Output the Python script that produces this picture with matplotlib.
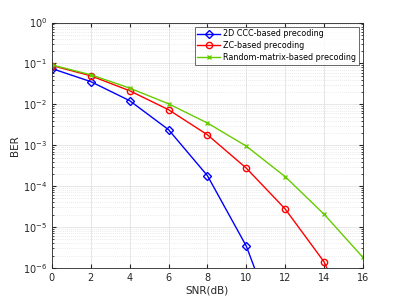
import matplotlib
matplotlib.use("Agg")
import matplotlib.pyplot as plt
import numpy as np
from matplotlib.ticker import LogLocator, NullFormatter, FixedLocator

snr = [0, 2, 4, 6, 8, 10, 12, 14, 16]
ber_ccc = [0.075, 0.036, 0.0123, 0.0024, 1.8e-4, 3.4e-6, 1e-8]
ber_zc = [0.089, 0.050, 0.0215, 0.0074, 0.0018, 2.75e-4, 2.75e-5, 1.4e-6, 1e-8]
ber_rand = [0.092, 0.053, 0.025, 0.0103, 0.0035, 9.5e-4, 1.7e-4, 2.05e-5, 1.8e-6]
labels = ['2D CCC-based precoding', 'ZC-based precoding', 'Random-matrix-based precoding']
yticks = [1e-6, 1e-5, 1e-4, 1e-3, 1e-2, 1e-1, 1e0]
ytick_labels = ['$10^{-6}$', '$10^{-5}$', '$10^{-4}$', '$10^{-3}$', '$10^{-2}$', '$10^{-1}$', '$10^{0}$']

plt.rcParams['font.family'] = ['DejaVu Sans']
fig = plt.figure(figsize=(4.02, 3.01), dpi=100)
ax = fig.add_axes([0.129, 0.110, 0.774, 0.815])

ax.semilogy(snr[:len(ber_ccc)], ber_ccc, color='#0000ff', marker='D', ms=3.8, mfc='none', mew=1.0, lw=1.0, label=labels[0])
ax.semilogy(snr, ber_zc, color='#ff0000', marker='o', ms=4.5, mfc='none', mew=1.0, lw=1.0, label=labels[1])
ax.semilogy(snr, ber_rand, color='#66cc00', marker='x', ms=3.5, mew=1.0, lw=1.0, label=labels[2])

ax.set_xlim(0, 16)
ax.set_ylim(1e-6, 1)
ax.set_xticks(range(0, 17, 2))
ax.set_yticks(yticks)
ax.set_yticklabels(ytick_labels)
minor = [m * 10.0**e for e in range(-6, 0) for m in range(2, 10)]
ax.yaxis.set_minor_locator(FixedLocator(minor))
ax.yaxis.set_minor_formatter(NullFormatter())

ax.grid(True, which='major', color='#e3e3e3', lw=0.6)
ax.grid(True, which='minor', axis='y', color='#d8d8d8', lw=0.5, ls=(0, (1, 2)))
ax.set_axisbelow(True)
ax.tick_params(which='both', direction='in', top=True, right=True, labelsize=7, colors='#262626', labelcolor='#262626')
ax.tick_params(which='major', length=3)
ax.tick_params(which='minor', length=1.5)
for s in ax.spines.values():
    s.set_color('#262626')
    s.set_linewidth(0.6)

ax.set_xlabel('SNR(dB)', fontsize=7.5, color='#262626', labelpad=2)
ax.set_ylabel('BER', fontsize=7.5, color='#262626', labelpad=2)

leg = ax.legend(loc='upper right', fontsize=5.8, frameon=True, fancybox=False,
                edgecolor='#262626', borderpad=0.35, handlelength=2.8, labelspacing=0.35,
                borderaxespad=0.5, handletextpad=0.4)
leg.get_frame().set_linewidth(0.6)

fig.savefig('out.png', dpi=100)
